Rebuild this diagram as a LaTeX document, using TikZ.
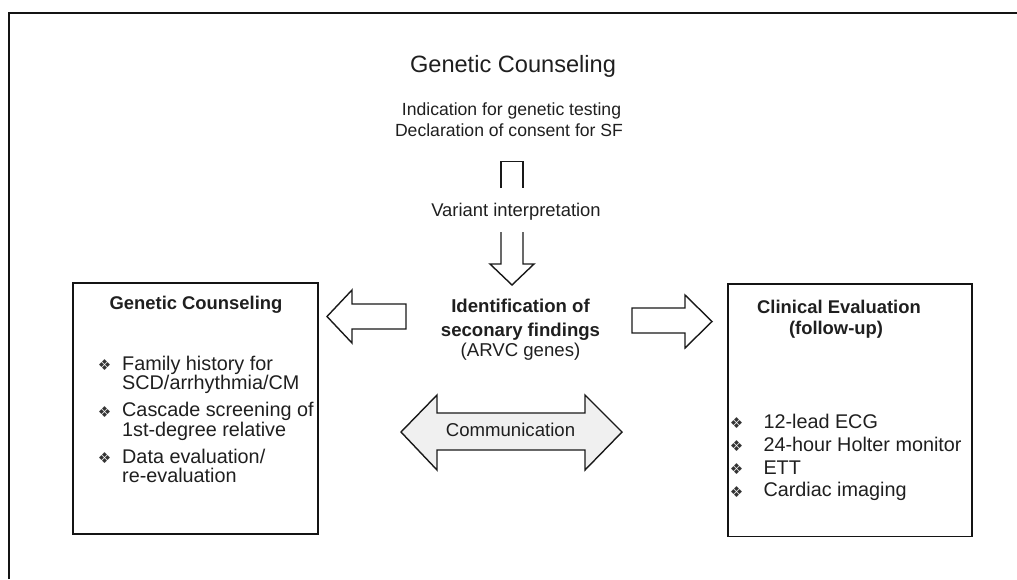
\documentclass[tikz,border=0pt]{standalone}
\usepackage{fontspec}
\setmainfont{Liberation Sans}
\newfontfamily\symfont{DejaVu Sans}
\begin{document}
\begin{tikzpicture}[x=1pt,y=-1pt,
  txt/.style={inner sep=0pt, anchor=base, text=black!88},
  lft/.style={txt, anchor=base west},
  bul/.style={inner sep=0pt, anchor=base, text=black!80, font=\symfont\fontsize{15}{15}\selectfont},
  frame/.style={line width=2pt, black!92},
  box/.style={line width=1.8pt, black!92},
  blk/.style={line width=1.4pt, black!90, line join=miter},
  sz18b/.style={font=\fontsize{18.4}{20}\selectfont\bfseries},
  sz20/.style={font=\fontsize{19.8}{20}\selectfont}
]
\useasboundingbox (0,0) rectangle (1017,579);
% outer frame (left and top edges)
\draw[frame] (9,579) -- (9,13.2) -- (1017,13.2);

% top texts
\node[txt, font=\fontsize{23.6}{26}\selectfont] (title) at (513,72.5) {Genetic Counseling};
\node[txt, font=\fontsize{17.6}{20}\selectfont] (ind) at (511.5,115) {Indication for genetic testing};
\node[txt, font=\fontsize{17.6}{20}\selectfont] (decl) at (509,136.7) {Declaration of consent for SF};
\node[txt, font=\fontsize{18.4}{20}\selectfont] (var) at (516,216) {Variant interpretation};

% vertical block arrow, interrupted by the label
\draw[blk] (501,188) -- (501,161.5) -- (523,161.5) -- (523,188);
\draw[blk] (501,232) -- (501,264) -- (490,264) -- (512,285) -- (534,264) -- (523,264) -- (523,232);

% centre texts
\node[txt, font=\fontsize{18.6}{20}\selectfont\bfseries] (id1) at (520.5,312.7) {Identification of};
\node[txt, font=\fontsize{18.6}{20}\selectfont\bfseries] (id2) at (520.5,336.5) {seconary findings};
\node[txt, font=\fontsize{18.6}{20}\selectfont] (id3) at (520.5,356.7) {(ARVC genes)};

% left/right block arrows
\draw[blk] (406,304) -- (352,304) -- (352,290) -- (327,316.5) -- (352,343) -- (352,329) -- (406,329) -- cycle;
\draw[blk] (632,308) -- (685,308) -- (685,295) -- (712,321.5) -- (685,348) -- (685,333) -- (632,333) -- cycle;

% communication double arrow
\draw[blk, fill=black!6] (401,432) -- (437,395) -- (437,413) -- (585,413) -- (585,395) -- (622,432)
  -- (585,470) -- (585,450) -- (437,450) -- (437,470) -- cycle;
\node[txt, font=\fontsize{18.6}{20}\selectfont] (comm) at (510.5,436.7) {Communication};

% left box
\draw[box] (73,283) rectangle (318,534.3);
\node[txt, sz18b] (lt) at (196,309) {Genetic Counseling};
\node[bul] (lb1) at (104.5,370.5) {❖};
\node[lft, sz20] (l1a) at (122,370) {Family history for};
\node[lft, sz20] (l1b) at (122,389.8) {SCD/arrhythmia/CM};
\node[bul] (lb2) at (104.5,417) {❖};
\node[lft, sz20] (l2a) at (122,416.5) {Cascade screening of};
\node[lft, sz20] (l2b) at (122,436) {1st-degree relative};
\node[bul] (lb3) at (104.5,463.5) {❖};
\node[lft, sz20] (l3a) at (122,463) {Data evaluation/};
\node[lft, sz20] (l3b) at (122,482.7) {re-evaluation};

% right box
\draw[box] (728,284) rectangle (971.7,536.5);
\node[txt, sz18b] (rt1) at (839,313) {Clinical Evaluation};
\node[txt, sz18b] (rt2) at (836,334.5) {(follow-up)};
\node[bul] (rb1) at (736.5,428.5) {❖};
\node[lft, sz20] (r1) at (763.3,428) {12-lead ECG};
\node[bul] (rb2) at (736.5,451.5) {❖};
\node[lft, sz20] (r2) at (763.3,451) {24-hour Holter monitor};
\node[bul] (rb3) at (736.5,474.5) {❖};
\node[lft, sz20] (r3) at (763.3,474) {ETT};
\node[bul] (rb4) at (736.5,497) {❖};
\node[lft, sz20] (r4) at (763.3,496.5) {Cardiac imaging};
\end{tikzpicture}
\end{document}
